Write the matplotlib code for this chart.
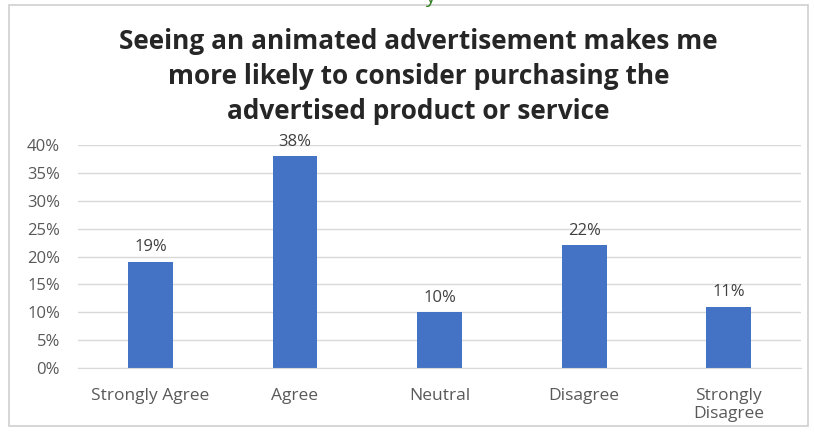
import matplotlib.pyplot as plt
from matplotlib.patches import Rectangle
from matplotlib.ticker import PercentFormatter

# Survey answers
categories = ["Strongly Agree", "Agree", "Neutral", "Disagree", "Strongly\nDisagree"]
shares = [0.19, 0.38, 0.10, 0.22, 0.11]
labels = ["19%", "38%", "10%", "22%", "11%"]
yticks = [0, 0.05, 0.10, 0.15, 0.20, 0.25, 0.30, 0.35, 0.40]

plt.rcParams['font.family'] = ['Open Sans', 'DejaVu Sans']

fig = plt.figure(figsize=(8.14, 4.32), dpi=100)
ax = fig.add_axes([0.096, 0.148, 0.888, 0.516])

# outer chart frame
fig.patches.append(Rectangle((0.011, 0.014), 0.982, 0.974, transform=fig.transFigure,
                             fill=False, edgecolor="#d0d0d0", linewidth=1.2))
# clipped caption fragment at the very top
fig.text(0.528, 1.005, "y", color="#2e7d1e", fontsize=14, ha="center", va="center")

x = range(len(categories))
bars = ax.bar(x, shares, width=0.31, color="#4472c4")
for b, t in zip(bars, labels):
    ax.text(b.get_x() + b.get_width() / 2, b.get_height() + 0.012, t,
            ha="center", va="bottom", fontsize=12, color="#404040")

ax.set_xlim(-0.5, len(categories) - 0.5)
ax.set_ylim(0, 0.4)
ax.set_yticks(yticks)
ax.yaxis.set_major_formatter(PercentFormatter(1.0, decimals=0))
ax.set_xticks(list(x))
ax.set_xticklabels(categories, fontsize=12.5, color="#595959", linespacing=1.2)
ax.tick_params(axis="y", labelsize=12, labelcolor="#595959", length=0, pad=13)
ax.tick_params(axis="x", length=0, pad=14)
ax.grid(axis="y", color="#d9d9d9", linewidth=1)
ax.set_axisbelow(True)
for s in ["top", "right", "left"]:
    ax.spines[s].set_visible(False)
ax.spines["bottom"].set_color("#d9d9d9")

fig.text(0.514, 0.822, "Seeing an animated advertisement makes me\n"
         "more likely to consider purchasing the\n"
         "advertised product or service",
         ha="center", va="center", fontsize=18.9, fontweight="bold",
         color="#262626", linespacing=1.38)

fig.savefig("out.png", dpi=100)
